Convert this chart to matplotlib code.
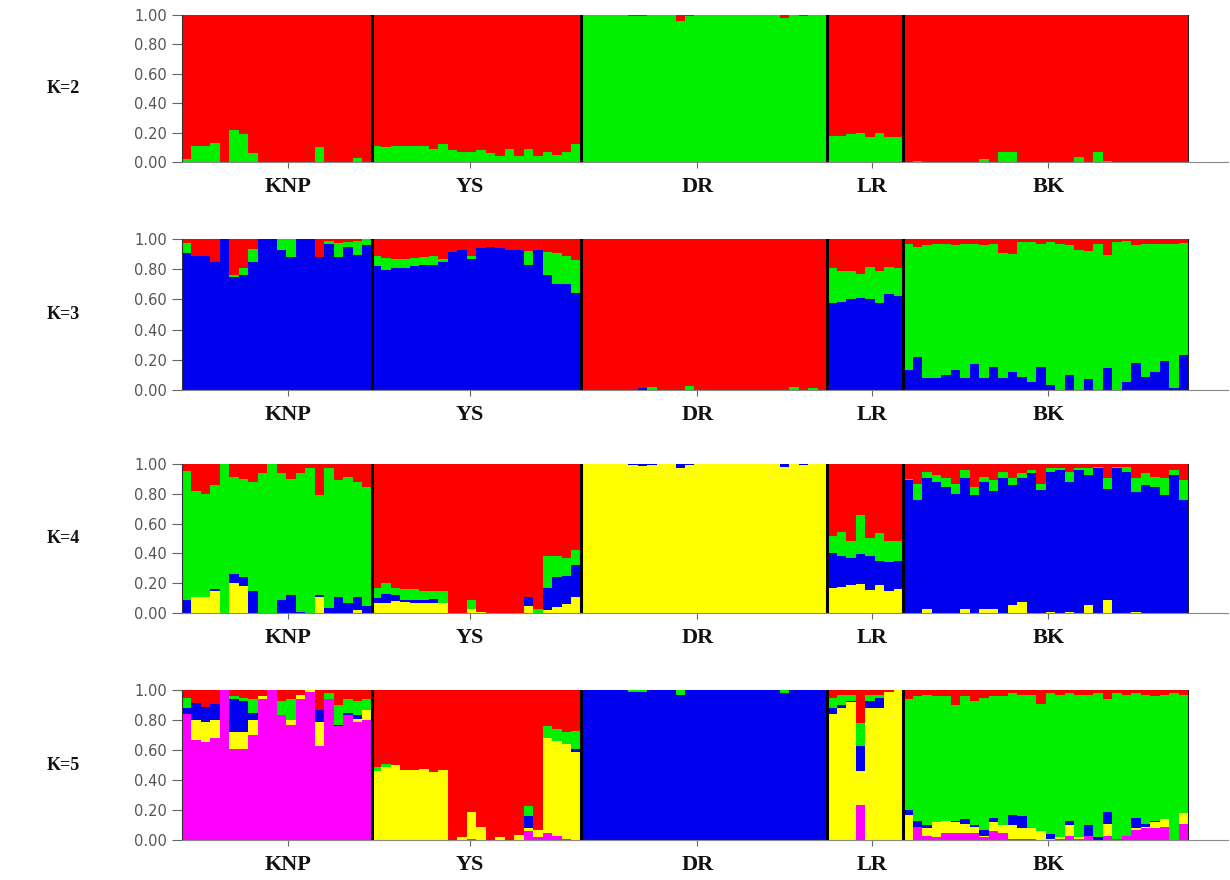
import numpy as np
import matplotlib.pyplot as plt

# populations (individuals in plotting order)
pops = ['KNP', 'YS', 'DR', 'LR', 'BK']
pop_sizes = [20, 22, 26, 8, 30]
k_labels = ['K=2', 'K=3', 'K=4', 'K=5']

# cumulative membership (top edge of each cluster, bottom to top); the last cluster fills to 1.0
# K=2: green, red
k2_green = ([0.02, 0.11, 0.11, 0.13, 0.0, 0.22, 0.19, 0.06, 0, 0, 0, 0, 0, 0, 0.10, 0, 0, 0, 0.03, 0]
            + [0.11, 0.10, 0.11, 0.11, 0.11, 0.11, 0.09, 0.12, 0.08, 0.07, 0.065, 0.08, 0.06, 0.04, 0.09,
               0.04, 0.09, 0.04, 0.07, 0.05, 0.07, 0.12]
            + [1, 1, 1, 1, 1, 0.99, 0.99, 1, 1, 1, 0.96, 0.99, 1, 1, 1, 1, 1, 1, 1, 1, 1, 0.98, 1, 0.99, 1, 1]
            + [0.18, 0.18, 0.19, 0.20, 0.17, 0.20, 0.17, 0.17]
            + [0, 0.01, 0, 0, 0, 0, 0, 0, 0.02, 0, 0.065, 0.065, 0, 0, 0, 0, 0, 0, 0.035, 0, 0.07, 0.01,
               0, 0, 0, 0, 0, 0, 0, 0])

# K=3: blue, green, red
k3_blue = ([0.905, 0.89, 0.89, 0.85, 1.0, 0.75, 0.76, 0.85, 1.0, 1.0, 0.93, 0.88, 1.0, 1.0, 0.88, 0.97,
            0.88, 0.95, 0.895, 0.96]
           + [0.82, 0.795, 0.81, 0.81, 0.82, 0.83, 0.83, 0.845, 0.915, 0.93, 0.87, 0.94, 0.95, 0.94, 0.93,
              0.93, 0.83, 0.93, 0.76, 0.705, 0.70, 0.64]
           + [0, 0, 0, 0, 0, 0, 0.01, 0, 0, 0, 0, 0, 0, 0, 0, 0, 0, 0, 0, 0, 0, 0, 0, 0, 0, 0]
           + [0.575, 0.58, 0.60, 0.61, 0.605, 0.575, 0.635, 0.625]
           + [0.13, 0.22, 0.08, 0.08, 0.10, 0.13, 0.08, 0.17, 0.08, 0.155, 0.08, 0.12, 0.085, 0.05, 0.155,
              0.03, 0.0, 0.10, 0.0, 0.07, 0.0, 0.145, 0.0, 0.055, 0.18, 0.085, 0.12, 0.19, 0.01, 0.23])
k3_green = ([0.975, 0.89, 0.89, 0.85, 1.0, 0.76, 0.805, 0.935, 1.0, 1.0, 1.0, 1.0, 1.0, 1.0, 0.88, 0.99,
             0.975, 0.98, 0.985, 1.0]
            + [0.885, 0.872, 0.865, 0.865, 0.875, 0.88, 0.89, 0.87, 0.915, 0.93, 0.89, 0.94, 0.95, 0.94,
               0.93, 0.93, 0.92, 0.93, 0.915, 0.905, 0.89, 0.86]
            + [0, 0, 0, 0, 0, 0, 0.01, 0.02, 0, 0, 0, 0.025, 0, 0, 0, 0, 0, 0, 0, 0, 0, 0, 0.02, 0, 0.01, 0]
            + [0.805, 0.79, 0.785, 0.77, 0.815, 0.785, 0.815, 0.805]
            + [0.97, 0.95, 0.96, 0.97, 0.97, 0.96, 0.965, 0.965, 0.96, 0.97, 0.905, 0.90, 0.98, 0.98, 0.965,
               0.98, 0.965, 0.96, 0.93, 0.92, 0.97, 0.895, 0.98, 0.985, 0.96, 0.97, 0.97, 0.97, 0.97, 0.975])

# K=4: yellow, blue, green, red
k4_yellow = ([0, 0.11, 0.11, 0.15, 0, 0.20, 0.18, 0, 0, 0, 0, 0, 0, 0, 0.11, 0, 0, 0, 0.02, 0]
             + [0.07, 0.07, 0.08, 0.075, 0.07, 0.07, 0.065, 0.065, 0, 0, 0.03, 0.01, 0, 0, 0, 0, 0.05, 0,
                0.02, 0.04, 0.06, 0.11]
             + [1, 1, 1, 1, 1, 0.99, 0.985, 0.99, 1, 1, 0.97, 0.99, 1, 1, 1, 1, 1, 1, 1, 1, 1, 0.98, 1, 0.99, 1, 1]
             + [0.17, 0.175, 0.19, 0.196, 0.155, 0.19, 0.145, 0.16]
             + [0, 0, 0.027, 0, 0, 0, 0.027, 0, 0.027, 0.027, 0, 0.056, 0.074, 0, 0, 0.01, 0, 0.01, 0, 0.056,
                0, 0.086, 0, 0, 0.01, 0, 0, 0, 0, 0])
k4_blue = ([0.09, 0.11, 0.11, 0.16, 0, 0.26, 0.24, 0.15, 0, 0, 0.09, 0.12, 0.01, 0, 0.12, 0.035, 0.11, 0.07,
            0.11, 0.05]
           + [0.10, 0.13, 0.12, 0.09, 0.09, 0.09, 0.095, 0.065, 0, 0, 0.03, 0.01, 0, 0, 0, 0, 0.11, 0, 0.17,
              0.24, 0.25, 0.32]
           + [1] * 26
           + [0.405, 0.38, 0.37, 0.395, 0.38, 0.35, 0.34, 0.35]
           + [0.89, 0.756, 0.903, 0.880, 0.847, 0.801, 0.903, 0.790, 0.880, 0.817, 0.903, 0.862, 0.903, 0.937,
              0.824, 0.944, 0.959, 0.876, 0.959, 0.926, 0.971, 0.835, 0.971, 0.948, 0.813, 0.858, 0.847,
              0.790, 0.926, 0.756])
k4_green = ([0.95, 0.82, 0.80, 0.86, 1.0, 0.91, 0.90, 0.88, 0.94, 1.0, 0.94, 0.90, 0.94, 0.97, 0.79, 0.97,
             0.89, 0.91, 0.88, 0.845]
            + [0.17, 0.20, 0.17, 0.16, 0.16, 0.15, 0.15, 0.145, 0, 0, 0.09, 0.01, 0, 0, 0, 0, 0.11, 0.03,
               0.38, 0.38, 0.37, 0.42]
            + [1] * 26
            + [0.52, 0.545, 0.485, 0.66, 0.50, 0.54, 0.485, 0.485]
            + [0.90, 0.869, 0.948, 0.926, 0.903, 0.869, 0.959, 0.847, 0.914, 0.892, 0.948, 0.903, 0.937, 0.959,
               0.869, 0.975, 0.975, 0.944, 0.971, 0.971, 0.982, 0.903, 0.982, 0.982, 0.903, 0.937, 0.914,
               0.903, 0.959, 0.892])

# K=5: magenta, yellow, blue, green, red
k5_magenta = ([0.84, 0.665, 0.655, 0.68, 1.0, 0.61, 0.61, 0.70, 0.94, 1.0, 0.835, 0.77, 0.94, 0.99, 0.63, 0.94,
               0.76, 0.835, 0.79, 0.80]
              + [0, 0, 0, 0, 0, 0, 0, 0, 0, 0, 0.01, 0, 0, 0, 0, 0, 0.06, 0.02, 0.05, 0.03, 0.01, 0]
              + [0] * 26
              + [0, 0, 0, 0.235, 0, 0, 0, 0]
              + [0, 0.09, 0.03, 0.02, 0.05, 0.05, 0.05, 0.05, 0.02, 0.06, 0.05, 0.01, 0.01, 0.01, 0, 0, 0.01,
                 0.03, 0.01, 0.03, 0, 0.03, 0.01, 0.03, 0.07, 0.08, 0.08, 0.09, 0, 0.11])
k5_yellow = ([0.84, 0.80, 0.79, 0.80, 1.0, 0.72, 0.72, 0.80, 0.96, 1.0, 0.835, 0.80, 0.97, 1.0, 0.79, 0.94,
              0.76, 0.835, 0.81, 0.87]
             + [0.46, 0.485, 0.50, 0.47, 0.47, 0.475, 0.455, 0.47, 0, 0.02, 0.19, 0.085, 0, 0.02, 0, 0.035,
                0.08, 0.07, 0.68, 0.66, 0.64, 0.59]
             + [0] * 26
             + [0.84, 0.88, 0.92, 0.46, 0.88, 0.88, 0.99, 1.0]
             + [0.17, 0.09, 0.08, 0.12, 0.13, 0.12, 0.11, 0.09, 0.03, 0.12, 0.10, 0.10, 0.08, 0.08, 0.06, 0.01,
                0.02, 0.10, 0.02, 0.03, 0, 0.11, 0.01, 0.03, 0.08, 0.09, 0.12, 0.14, 0, 0.18])
k5_blue = ([0.88, 0.915, 0.89, 0.91, 1.0, 0.94, 0.93, 0.85, 0.96, 1.0, 0.835, 0.80, 0.97, 1.0, 0.87, 0.94,
            0.77, 0.85, 0.835, 0.87]
           + [0.46, 0.485, 0.50, 0.47, 0.47, 0.475, 0.455, 0.47, 0, 0.02, 0.19, 0.085, 0, 0.02, 0, 0.035,
              0.16, 0.07, 0.68, 0.66, 0.64, 0.61]
           + [1, 1, 1, 1, 1, 0.99, 0.99, 1, 1, 1, 0.97, 1, 1, 1, 1, 1, 1, 1, 1, 1, 1, 0.98, 1, 1, 1, 1]
           + [0.88, 0.90, 0.93, 0.63, 0.93, 0.95, 0.99, 1.0]
           + [0.20, 0.13, 0.10, 0.12, 0.13, 0.13, 0.14, 0.10, 0.07, 0.15, 0.10, 0.17, 0.16, 0.08, 0.06, 0.04,
              0.02, 0.13, 0.02, 0.10, 0.02, 0.19, 0.01, 0.03, 0.15, 0.11, 0.13, 0.14, 0, 0.18])
k5_green = ([0.95, 0.915, 0.89, 0.91, 1.0, 0.96, 0.95, 0.94, 0.96, 1.0, 0.93, 0.94, 0.97, 1.0, 0.87, 0.98,
             0.90, 0.94, 0.925, 0.94]
            + [0.485, 0.51, 0.50, 0.47, 0.47, 0.475, 0.455, 0.47, 0, 0.02, 0.19, 0.085, 0, 0.02, 0, 0.035,
               0.225, 0.07, 0.76, 0.74, 0.72, 0.73]
            + [1] * 26
            + [0.95, 0.97, 0.97, 0.78, 0.97, 0.97, 0.99, 1.0]
            + [0.94, 0.96, 0.97, 0.96, 0.96, 0.90, 0.96, 0.93, 0.95, 0.96, 0.96, 0.98, 0.97, 0.97, 0.91, 0.98,
               0.97, 0.98, 0.97, 0.97, 0.98, 0.94, 0.98, 0.97, 0.98, 0.97, 0.96, 0.97, 0.98, 0.97])

RED, GREEN, BLUE, YELLOW, MAGENTA = '#ff0000', '#00f000', '#0000f0', '#ffff00', '#ff00ff'
panels = [
    ([k2_green], [GREEN, RED]),
    ([k3_blue, k3_green], [BLUE, GREEN, RED]),
    ([k4_yellow, k4_blue, k4_green], [YELLOW, BLUE, GREEN, RED]),
    ([k5_magenta, k5_yellow, k5_blue, k5_green], [MAGENTA, YELLOW, BLUE, GREEN, RED]),
]

# layout, in pixels of the 1230x880 figure
W, H = 1230, 880
panel_px = [(15, 162), (239, 390), (464, 613), (690, 840)]
left_px, right_px, bars_right_px = 182, 1228, 1188
label_pos = [11.2, 30.3, 54.3, 72.7, 91.3]

n = sum(pop_sizes)
x = np.arange(n)
xmax = n * (right_px - left_px) / (bars_right_px - left_px)
bounds = np.cumsum(pop_sizes)[:-1]

fig = plt.figure(figsize=(W / 100, H / 100), dpi=100)

for (tops, colors), (ytop, ybot), klab in zip(panels, panel_px, k_labels):
    ax = fig.add_axes([left_px / W, 1 - ybot / H, (right_px - left_px) / W, (ybot - ytop) / H])
    bottom = np.zeros(n)
    for cum, c in zip(tops + [np.ones(n)], colors):
        cum = np.maximum(np.asarray(cum, float), bottom)
        ax.bar(x, cum - bottom, bottom=bottom, width=1.0, align='edge', color=c,
               linewidth=0, antialiased=False)
        bottom = cum
    for b in bounds:
        ax.axvline(b, color='black', lw=2.2)
    ax.axvline(n, color='#222222', lw=0.8)

    ax.set_xlim(0, xmax)
    ax.set_ylim(0, 1)
    for s in ['top', 'right']:
        ax.spines[s].set_visible(False)
    ax.spines['left'].set_color('#333333')
    ax.spines['bottom'].set_color('#888888')
    ax.set_yticks(np.arange(0, 1.01, 0.2))
    ax.set_yticklabels([f'{v:.2f}' for v in np.arange(0, 1.01, 0.2)],
                       fontsize=10.5, color='#555555', family='DejaVu Sans')
    ax.tick_params(axis='y', length=7, color='#666666', pad=4)
    ax.set_xticks(label_pos)
    ax.set_xticklabels(pops, fontsize=16, fontweight='bold', family='Liberation Serif', color='#111111')
    ax.tick_params(axis='x', length=4, color='#666666', pad=7)

    fig.text(63 / W, 1 - (ytop + ybot) / 2 / H, klab, fontsize=13, fontweight='bold',
             family='Liberation Serif', ha='center', va='center', color='#111111')

fig.savefig('out.png', dpi=100)
